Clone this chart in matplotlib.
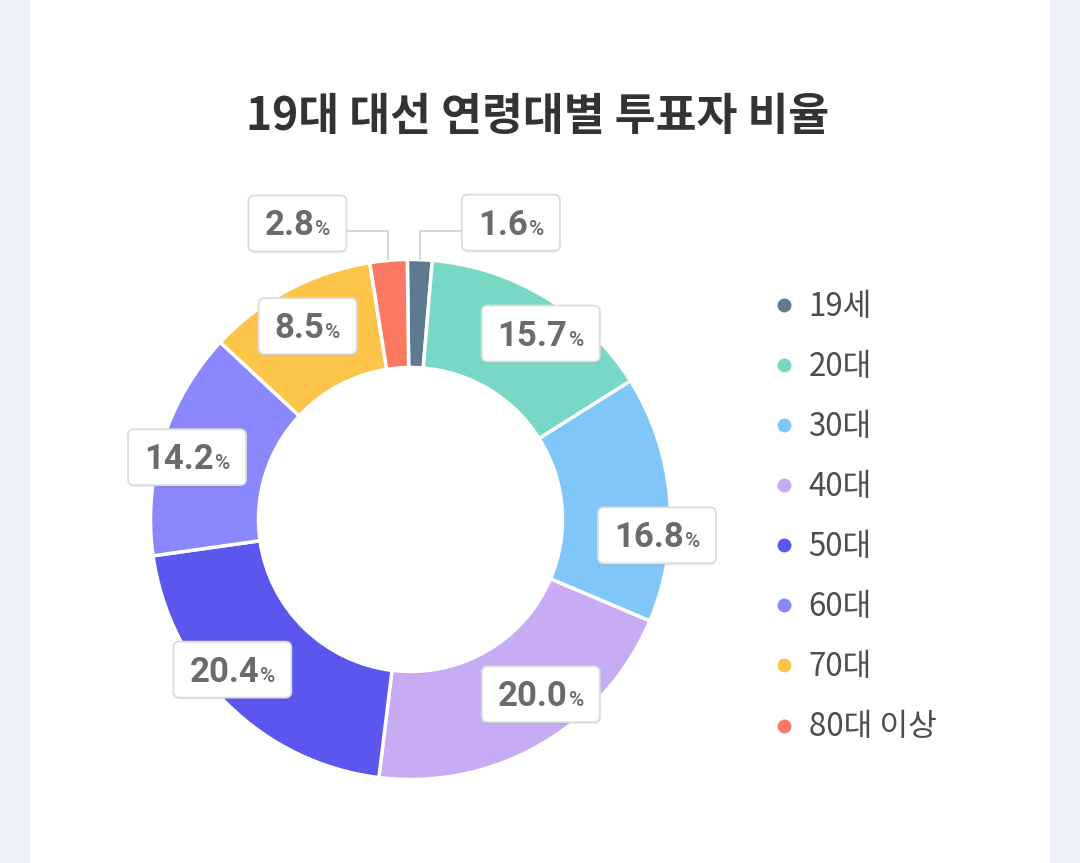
import matplotlib
matplotlib.use('Agg')
import matplotlib.pyplot as plt
from matplotlib.patches import FancyBboxPatch, Rectangle
from matplotlib.lines import Line2D
import numpy as np

plt.rcParams['font.family'] = ['Noto Sans CJK KR', 'DejaVu Sans']

# data
groups = ['19세', '20대', '30대', '40대', '50대', '60대', '70대', '80대 이상']
pct_labels = [1.6, 15.7, 16.8, 20.0, 20.4, 14.2, 8.5, 2.8]
# arc sizes as drawn in the reference (not exactly proportional to the labels)
slice_sizes = [1.53, 14.72, 15.33, 20.56, 20.83, 14.17, 10.56, 2.31]
colors = ['#5E7A90', '#78D8C5', '#80C6F8', '#C7ABF3',
          '#5B57EE', '#8B87FC', '#FDC44A', '#FB7863']
title = '19대 대선 연령대별 투표자 비율'

W, H = 1080, 863
fig = plt.figure(figsize=(W / 100, H / 100), dpi=100)
fig.patch.set_facecolor('#ECF1FA')
ax = fig.add_axes([0, 0, 1, 1])

# white card
ax.add_patch(Rectangle((30, 0), 1020, H, facecolor='white', edgecolor='none', zorder=0))

cx, cy = 410.5, H - 519.5
R, ring = 260, 108
start = -0.7  # clockwise from top

ax.pie(slice_sizes, colors=colors, startangle=90 - start, counterclock=False,
       radius=R, center=(cx, cy),
       wedgeprops=dict(width=ring, edgecolor='white', linewidth=2.5))
ax.set_xlim(0, W)
ax.set_ylim(0, H)
ax.set_aspect('auto')
ax.axis('off')

renderer = fig.canvas.get_renderer()
txt_col = '#6B6B6B'
num_font = dict(family=['Roboto', 'DejaVu Sans'], fontweight='bold', color=txt_col)
pct_font = dict(family=['Roboto', 'DejaVu Sans'], fontweight='medium', color=txt_col)

# label placement tweaks (angle offset deg, radius) for inner labels
nudge = {1: (3.7, 227), 2: (8.3, 247), 3: (-6.7, 218), 4: (5.4, 233), 5: (-1.9, 232), 6: (0, 219)}

cum = np.cumsum([0] + slice_sizes) / sum(slice_sizes) * 360 + start


def text_widths(i):
    a = ax.text(0, 0, f'{pct_labels[i]:.1f}', fontsize=25, **num_font)
    b = ax.text(0, 0, '%', fontsize=15, **pct_font)
    wn, wp = a.get_window_extent(renderer).width, b.get_window_extent(renderer).width
    a.remove()
    b.remove()
    return wn, wp


def draw_label(i, bx, by):
    wn, wp = text_widths(i)
    tw = wn + wp + 1
    x0 = bx - tw / 2
    base = by - 12
    ax.text(x0, base, f'{pct_labels[i]:.1f}', fontsize=25, ha='left', va='baseline',
            zorder=5, **num_font)
    ax.text(x0 + wn + 1, base, '%', fontsize=15, ha='left', va='baseline',
            zorder=5, **pct_font)
    bw, bh = tw + 32, 56
    ax.add_patch(FancyBboxPatch((bx - bw / 2 + 0.5, by - bh / 2 - 2), bw, bh,
                                boxstyle='round,pad=0,rounding_size=6',
                                facecolor=(0, 0, 0, 0.07), edgecolor='none', zorder=3))
    ax.add_patch(FancyBboxPatch((bx - bw / 2, by - bh / 2), bw, bh,
                                boxstyle='round,pad=0,rounding_size=6',
                                facecolor='white', edgecolor='#DCDCDC', linewidth=1.3, zorder=4))


for i, v in enumerate(pct_labels):
    mid = (cum[i] + cum[i + 1]) / 2
    if i in nudge:
        da, r = nudge[i]
        a = np.radians(mid + da)
        draw_label(i, cx + r * np.sin(a), cy + r * np.cos(a))
    else:
        # small slice: label outside with elbow leader line
        a = np.radians(mid)
        px, py = cx + R * np.sin(a), cy + R * np.cos(a)
        ey = py + 29
        side = 1 if np.sin(a) > 0 else -1
        ex = px + side * 42
        wn, wp = text_widths(i)
        bw = wn + wp + 1 + 32
        draw_label(i, ex + side * bw / 2, ey + 8)
        ax.plot([px, px, ex], [py, ey, ey], color='#CFCFCF', lw=1.2, zorder=2,
                solid_capstyle='butt')

# legend
handles = [Line2D([], [], marker='o', ls='', markersize=10, markerfacecolor=c,
                  markeredgecolor='none') for c in colors]
leg = ax.legend(handles, groups, loc='center left', bbox_to_anchor=(775.75, H - 517),
                bbox_transform=ax.transData, frameon=False, fontsize=22.5,
                handlelength=0.5, handletextpad=0.55, labelspacing=0.9,
                borderpad=0, borderaxespad=0)
for t in leg.get_texts():
    t.set_color('#4D4D4D')

fig.text(537.5 / W, 1 - 117 / H, title, ha='center', va='center', fontsize=32,
         fontweight='bold', color='#333333')

fig.savefig('out.png', dpi=100, facecolor=fig.get_facecolor())
